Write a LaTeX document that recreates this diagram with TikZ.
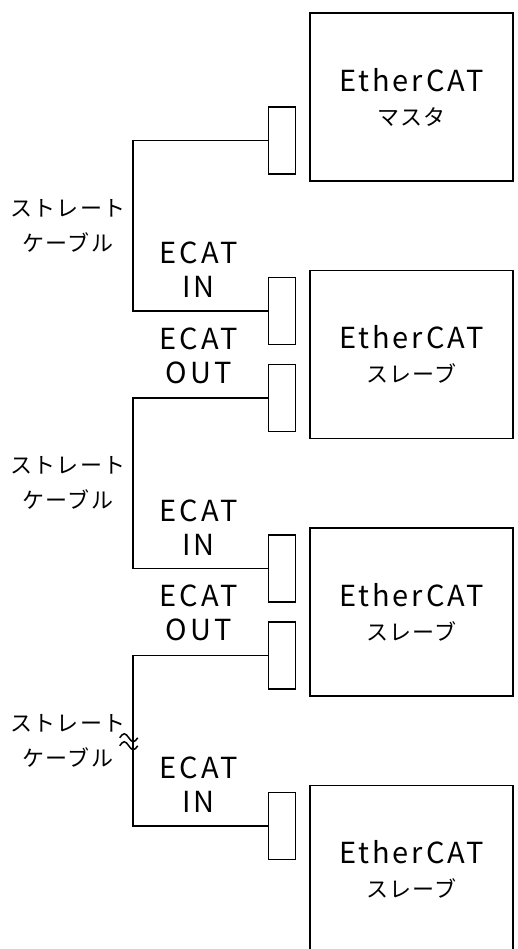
\documentclass[tikz,border=0pt]{standalone}
\usepackage{fontspec}
\setmainfont{Noto Sans CJK JP}
\newfontfamily\kanafont[LetterSpace=6]{Noto Sans CJK JP}
\newfontfamily\latinfont[LetterSpace=10]{Noto Sans CJK JP}
\usetikzlibrary{positioning,calc}
\newcommand{\kanaline}[1]{{\kanafont\fontsize{22}{26}\selectfont #1}}

\begin{document}
\begin{tikzpicture}[x=1pt, y=-1pt,
    node distance=88pt,
    unit/.style={draw, line width=1.5pt, minimum width=203pt, minimum height=168pt, inner sep=0pt, align=center, font=\latinfont\fontsize{29}{34}\selectfont},
    port/.style={draw, line width=1.5pt, minimum width=27pt, minimum height=67pt, inner sep=0pt},
    cable/.style={line width=1.5pt},
    portlbl/.style={align=center, inner sep=0pt, font=\latinfont\fontsize{29}{34}\selectfont},
    cablelbl/.style={align=center, inner sep=0pt, anchor=east, font=\kanafont\fontsize{22}{35}\selectfont}
]
\useasboundingbox (0,0) rectangle (518,949);
\clip (0,0) rectangle (518,949);

% units
\node[unit] (master) at (411.5,97) {EtherCAT\\\kanaline{マスタ}};
\node[unit, below=of master] (slave1) {EtherCAT\\\kanaline{スレーブ}};
\node[unit, below=of slave1] (slave2) {EtherCAT\\\kanaline{スレーブ}};
\node[unit, below=of slave2] (slave3) {EtherCAT\\\kanaline{スレーブ}};

% ports
\node[port, anchor=south east] (mout) at ([xshift=-13pt,yshift=7pt]master.south west) {};
\node[port, anchor=north east] (s1in) at ([xshift=-13pt,yshift=-7pt]slave1.north west) {};
\node[port, anchor=south east] (s1out) at ([xshift=-13pt,yshift=7pt]slave1.south west) {};
\node[port, anchor=north east] (s2in) at ([xshift=-13pt,yshift=-7pt]slave2.north west) {};
\node[port, anchor=south east] (s2out) at ([xshift=-13pt,yshift=7pt]slave2.south west) {};
\node[port, anchor=north east] (s3in) at ([xshift=-13pt,yshift=-7pt]slave3.north west) {};

\node[portlbl] at ([xshift=-69pt,yshift=7pt]s1in.north west) {ECAT\\IN};
\node[portlbl] at ([xshift=-69pt,yshift=8pt]s1out.north west) {ECAT\\OUT};
\node[portlbl] at ([xshift=-69pt,yshift=7pt]s2in.north west) {ECAT\\IN};
\node[portlbl] at ([xshift=-69pt,yshift=8pt]s2out.north west) {ECAT\\OUT};
\node[portlbl] at ([xshift=-69pt,yshift=7pt]s3in.north west) {ECAT\\IN};

% cables
\draw[cable] (mout.west) -- ++(-135,0) |- (s1in.west);
\draw[cable] (s1out.west) -- ++(-135,0) |- (s2in.west);
\draw[cable] (s2out.west) -- ++(-135,0) |- (s3in.west);
\coordinate (k1) at ($(mout.west)!.5!(s1in.west) + (-135,0)$);
\coordinate (k2) at ($(s1out.west)!.5!(s2in.west) + (-135,0)$);
\coordinate (k3) at ($(s2out.west)!.5!(s3in.west) + (-135,0)$);

\node[cablelbl] at ([xshift=-7pt]k1) {ストレート\\ケーブル};
\node[cablelbl] at ([xshift=-7pt]k2) {ストレート\\ケーブル};
\node[cablelbl] at ([xshift=-7pt]k3) {ストレート\\ケーブル};

% break mark
\draw[cable] ($(k3)+(-13,-3)$) sin ++(4.5,-4) cos ++(4.5,4) sin ++(4.5,4) cos ++(4.5,-4);
\draw[cable] ($(k3)+(-13,5)$) sin ++(4.5,-4) cos ++(4.5,4) sin ++(4.5,4) cos ++(4.5,-4);
\end{tikzpicture}
\end{document}
